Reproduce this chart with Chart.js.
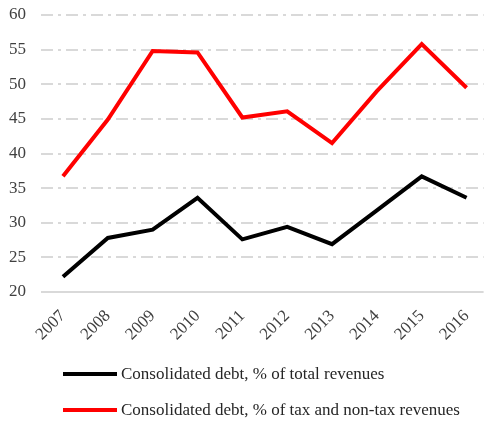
<!DOCTYPE html>
<html>
<head>
<meta charset="utf-8">
<title>Consolidated debt</title>
<script src="https://cdn.jsdelivr.net/npm/chart.js@4.4.1/dist/chart.umd.min.js"></script>
<style>
    html, body { margin: 0; padding: 0; background: #ffffff; }
    #wrap { position: relative; width: 487px; height: 421px; }
    #chartDeuda { position: absolute; left: 0; top: 0; }
    .leyenda-item { position: absolute; left: 63px; height: 20px; line-height: 20px;
        font-family: 'Liberation Serif', serif; font-size: 17px; color: #262626; white-space: nowrap; }
    .leyenda-linea { position: absolute; left: 0; top: 8px; width: 54px; height: 4px; }
    .leyenda-texto { position: absolute; left: 58px; top: 0; }
</style>
</head>
<body>
<div id="wrap">
    <canvas id="chartDeuda" width="487" height="421"></canvas>
    <div id="leyenda"></div>
</div>
<script>
// Datos
const years = [2007, 2008, 2009, 2010, 2011, 2012, 2013, 2014, 2015, 2016];
const debtTotalRevenues = [22.2, 27.8, 29.0, 33.6, 27.6, 29.4, 26.9, 31.8, 36.7, 33.6];
const debtTaxRevenues = [36.7, 44.9, 54.8, 54.6, 45.2, 46.1, 41.5, 49.0, 55.8, 49.5];
const yTicks = [20, 25, 30, 35, 40, 45, 50, 55, 60];
const seriesNames = [
    'Consolidated debt, % of total revenues',
    'Consolidated debt, % of tax and non-tax revenues',
];
const seriesColors = ['#000000', '#ff0000'];

function toPoints(values) {
    return years.map((y, i) => ({ x: y, y: values[i] }));
}

const tickFont = { family: "'Liberation Serif', serif", size: 17 };

const chart = new Chart(document.getElementById('chartDeuda'), {
    type: 'line',
    data: {
        datasets: [
            {
                label: seriesNames[0],
                data: toPoints(debtTotalRevenues),
                borderColor: seriesColors[0],
                backgroundColor: seriesColors[0],
                borderWidth: 4,
                pointRadius: 0,
                tension: 0,
            },
            {
                label: seriesNames[1],
                data: toPoints(debtTaxRevenues),
                borderColor: seriesColors[1],
                backgroundColor: seriesColors[1],
                borderWidth: 4,
                pointRadius: 0,
                tension: 0,
            },
        ],
    },
    options: {
        responsive: false,
        animation: false,
        layout: { padding: { top: 15, right: 0, bottom: 69, left: 0 } },
        plugins: {
            legend: { display: false },
            tooltip: { enabled: false },
        },
        scales: {
            x: {
                type: 'linear',
                min: 2006.51,
                max: 2016.38,
                grid: { display: false },
                border: { display: false },
                afterBuildTicks: (scale) => {
                    scale.ticks = years.map(v => ({ value: v }));
                },
                afterFit: (scale) => { scale.height = 60; },
                ticks: {
                    autoSkip: false,
                    minRotation: 45,
                    maxRotation: 45,
                    padding: 6,
                    color: '#404040',
                    font: tickFont,
                    callback: (v) => String(v),
                },
            },
            y: {
                min: 20,
                max: 60,
                afterBuildTicks: (scale) => {
                    scale.ticks = yTicks.map(v => ({ value: v }));
                },
                afterFit: (scale) => {
                    // ancho fijo y sin relleno extra arriba/abajo
                    scale.width = 41;
                    scale.paddingTop = 0;
                    scale.paddingBottom = 0;
                },
                grid: {
                    color: '#d9d9d9',
                    lineWidth: 2,
                    drawTicks: false,
                },
                border: {
                    display: false,
                    dash: (ctx) => (ctx.tick && ctx.tick.value === 20 ? [] : [12, 5, 3, 5]),
                },
                ticks: {
                    padding: 15,
                    color: '#404040',
                    font: tickFont,
                },
            },
        },
    },
});

// Leyenda en HTML, construida desde los datasets
const leyenda = document.getElementById('leyenda');
const leyendaTop = [364, 400];
leyenda.innerHTML = chart.data.datasets.map((ds, i) => `
    <div class="leyenda-item" style="top:${leyendaTop[i]}px">
        <span class="leyenda-linea" style="background:${ds.borderColor}"></span>
        <span class="leyenda-texto">${ds.label}</span>
    </div>
`).join('');
</script>
</body>
</html>
